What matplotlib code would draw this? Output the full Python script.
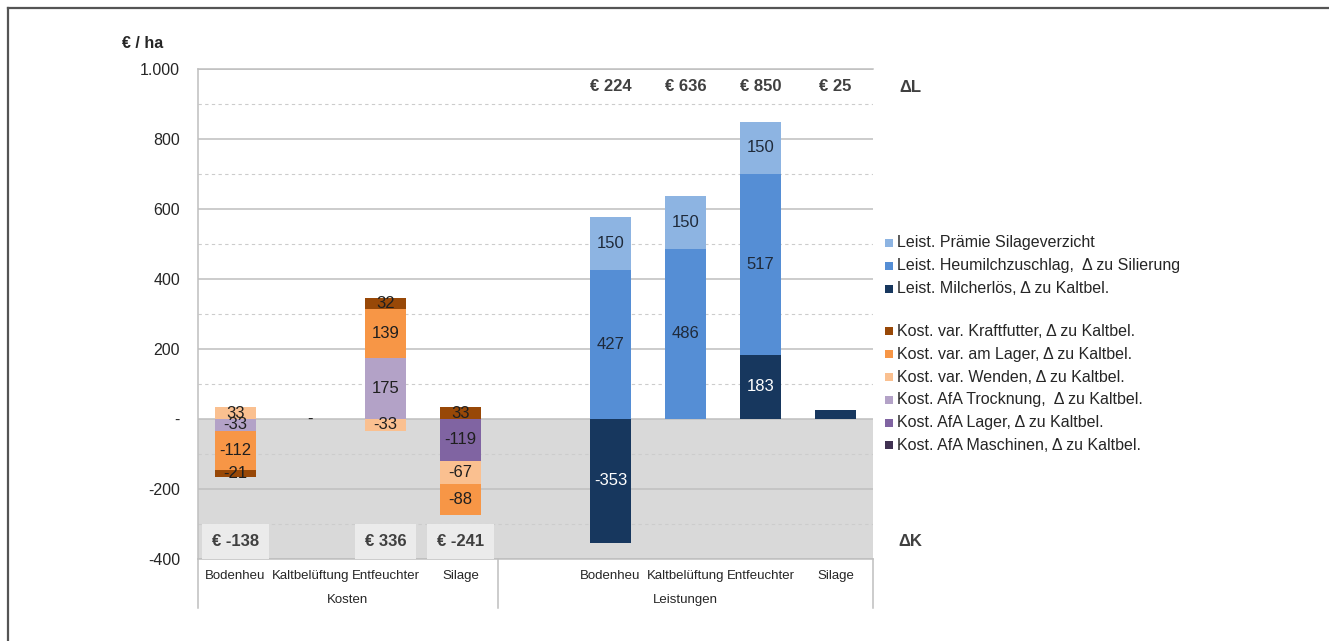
import matplotlib.pyplot as plt
from matplotlib.patches import Rectangle
from matplotlib.lines import Line2D
from matplotlib.ticker import FuncFormatter

plt.rcParams['font.family'] = ['Liberation Sans', 'DejaVu Sans']

# categories (same four variants on both sides)
variants = ["Bodenheu", "Kaltbelüftung", "Entfeuchter", "Silage"]
cost_slots = [0, 1, 2, 3]
rev_slots = [5, 6, 7, 8]

# cost deltas vs. Kaltbelüftung, €/ha (stacking order = series order)
afa_maschinen = [0, 0, 0, 0]
afa_lager = [0, 0, 0, -119]
afa_trocknung = [-33, 0, 175, 0]
var_wenden = [33, 0, -33, -67]
var_lager = [-112, 0, 139, -88]
var_kraftfutter = [-21, 0, 32, 33]

# revenue deltas, €/ha
milcherloes = [-353, 0, 183, 25]
heumilch = [427, 486, 517, 0]
praemie = [150, 150, 150, 0]

cost_totals = ["€ -138", "", "€ 336", "€ -241"]
rev_totals = ["€ 224", "€ 636", "€ 850", "€ 25"]

cost_series = [
    ("Kost. AfA Maschinen, Δ zu Kaltbel.", afa_maschinen, "#403151", "white"),
    ("Kost. AfA Lager, Δ zu Kaltbel.", afa_lager, "#8064A2", "#1f1f1f"),
    ("Kost. AfA Trocknung,  Δ zu Kaltbel.", afa_trocknung, "#B3A2C7", "#1f1f1f"),
    ("Kost. var. Wenden, Δ zu Kaltbel.", var_wenden, "#FAC090", "#1f1f1f"),
    ("Kost. var. am Lager, Δ zu Kaltbel.", var_lager, "#F79646", "#1f1f1f"),
    ("Kost. var. Kraftfutter, Δ zu Kaltbel.", var_kraftfutter, "#984807", "#1f1f1f"),
]
rev_series = [
    ("Leist. Milcherlös, Δ zu Kaltbel.", milcherloes, "#17375E", "white"),
    ("Leist. Heumilchzuschlag,  Δ zu Silierung", heumilch, "#558ED5", "#1f2a3a"),
    ("Leist. Prämie Silageverzicht", praemie, "#8DB4E2", "#1f2a3a"),
]
# the small Silage Milcherlös segment carries no label
no_label = {("milch", 3)}

fig = plt.figure(figsize=(13.29, 6.41), dpi=100)
ax = fig.add_axes([198 / 1329, 1 - 559 / 641, 675 / 1329, 490 / 641])
ax.set_xlim(-0.5, 8.5)
ax.set_ylim(-400, 1000)

# shaded cost region and grid
ax.axhspan(-400, 0, color="#D9D9D9", zorder=0, lw=0)
for y in range(-400, 1001, 200):
    ax.axhline(y, color="#BFBFBF", lw=1.1, zorder=1)
for y in range(-300, 1000, 200):
    ax.axhline(y, color="#CCCCCC", lw=0.8, ls=(0, (3, 3)), zorder=1)

width = 0.55


def stack(slots, series, key):
    pos = [0.0] * len(slots)
    neg = [0.0] * len(slots)
    for name, vals, color, tcolor in series:
        for i, (x, v) in enumerate(zip(slots, vals)):
            if v == 0:
                continue
            base = pos[i] if v > 0 else neg[i]
            ax.bar(x, v, width, bottom=base, color=color, zorder=2, lw=0)
            if (key(name), i) not in no_label:
                ax.text(x, base + v / 2, f"{v}", ha="center", va="center",
                        fontsize=12, color=tcolor, zorder=3)
            if v > 0:
                pos[i] += v
            else:
                neg[i] += v


stack(cost_slots, cost_series, lambda n: "cost")
stack(rev_slots, rev_series, lambda n: "milch" if "Milch" in n else "rev")

# zero value marker for Kaltbelüftung costs
ax.text(cost_slots[1], 0, "-", ha="center", va="center", fontsize=12, color="#1f1f1f", zorder=3)

# totals
for x, t in zip(rev_slots, rev_totals):
    ax.text(x, 949, t, ha="center", va="center", fontsize=12, fontweight="bold", color="#404040")
for x, t in zip(cost_slots, cost_totals):
    if t:
        ax.text(x, -349, t, ha="center", va="center", fontsize=12, fontweight="bold",
                color="#404040", zorder=4,
                bbox=dict(boxstyle="square,pad=0.6", fc="#EBEBEB", ec="none"))
ax.text(9.0, 946, "ΔL", ha="center", va="center", fontsize=12, fontweight="bold",
        color="#404040", clip_on=False)
ax.text(9.0, -350, "ΔK", ha="center", va="center", fontsize=12, fontweight="bold",
        color="#404040", clip_on=False)

# axes styling
ax.yaxis.set_major_formatter(FuncFormatter(
    lambda v, p: "-" if v == 0 else f"{int(v):,}".replace(",", ".")))
ax.set_yticks(range(-400, 1001, 200))
ax.tick_params(axis="y", length=0, pad=13, labelsize=11.5, labelcolor="#262626")
ax.set_xticks([])
for s in ["left", "top", "bottom"]:
    ax.spines[s].set_color("#BFBFBF")
    ax.spines[s].set_linewidth(1.1)
ax.spines["right"].set_visible(False)
ax.text(-0.97, 1072, "€ / ha", ha="right", va="center", fontsize=11.5, fontweight="bold",
        color="#262626", clip_on=False)

# category axis: two levels
for slots in (cost_slots, rev_slots):
    for x, name in zip(slots, variants):
        ax.text(x, -448, name, ha="center", va="center", fontsize=9.5, color="#262626", clip_on=False)
ax.text(1.5, -517, "Kosten", ha="center", va="center", fontsize=9.5, color="#262626", clip_on=False)
ax.text(6.0, -517, "Leistungen", ha="center", va="center", fontsize=9.5, color="#262626", clip_on=False)
for x in (-0.5, 3.5, 8.5):
    ax.plot([x, x], [-400, -540], color="#BFBFBF", lw=1.1, clip_on=False)

# legend, drawn in figure pixels
W, H = 1329, 641
legend_rows = [rev_series[2], rev_series[1], rev_series[0], None] + cost_series[::-1]
y = 243
for row in legend_rows:
    if row is None:
        y += 20
        continue
    name, _, color, _ = row
    fig.add_artist(Rectangle((885 / W, 1 - (y + 4) / H), 8 / W, 8 / H,
                             transform=fig.transFigure, color=color, lw=0))
    fig.text(897 / W, 1 - y / H, name, ha="left", va="center", fontsize=11.5, color="#262626")
    y += 22.8

# outer frame (top and left edges)
fig.add_artist(Line2D([8 / W, 1], [1 - 8 / H, 1 - 8 / H], transform=fig.transFigure,
                      color="#555555", lw=1.6))
fig.add_artist(Line2D([8 / W, 8 / W], [0, 1 - 8 / H], transform=fig.transFigure,
                      color="#555555", lw=1.6))

fig.savefig("out.png", dpi=100, facecolor="white")
